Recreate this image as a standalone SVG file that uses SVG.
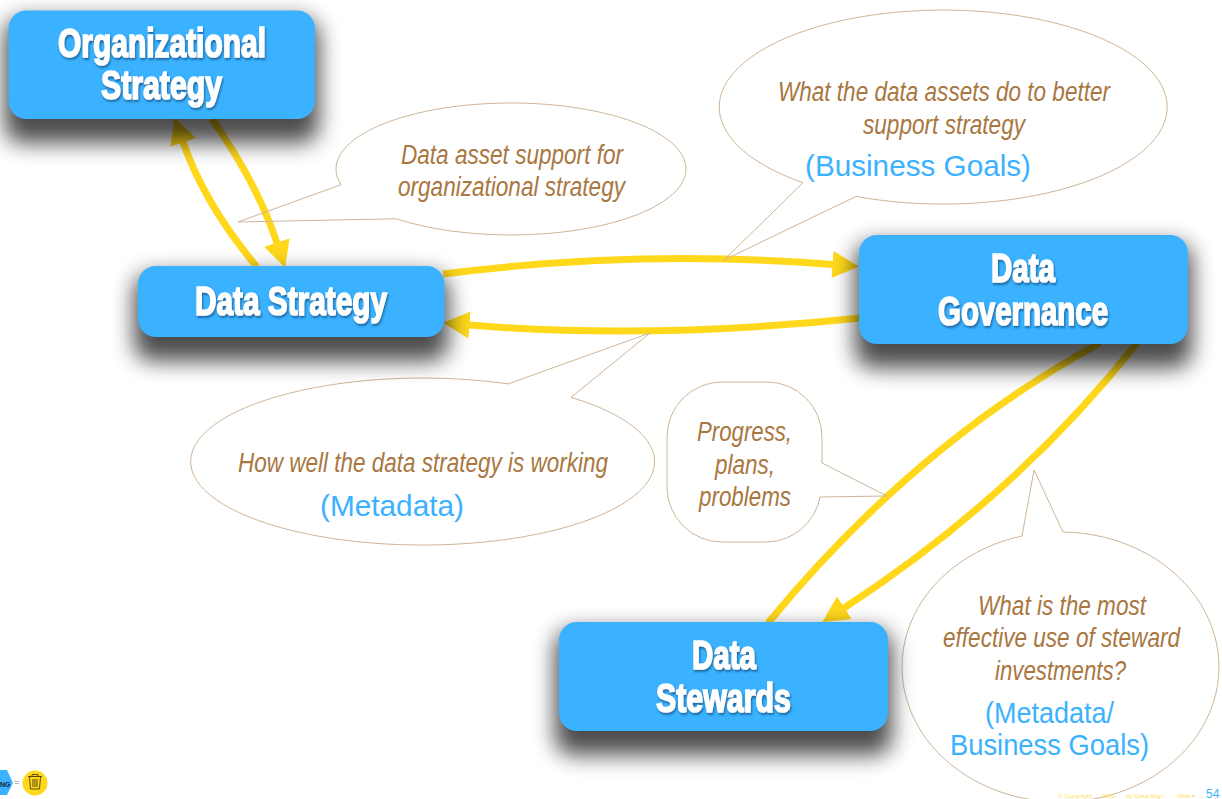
<svg xmlns="http://www.w3.org/2000/svg" width="1222" height="799" viewBox="0 0 1222 799">
<style>
text{font-family:"Liberation Sans",Arial,sans-serif}
.box{fill:#3BB2FF}
.shade{fill:#000;opacity:.7}
.title{fill:#fff;stroke:#fff;stroke-width:1.7px;font-size:41px;font-weight:700;filter:url(#ts);font-family:"Liberation Sans Narrow","Liberation Sans",Arial,sans-serif}
.say{fill:#A9773F;font-size:27px;font-style:italic}
.tag{fill:#3BB2FF;font-size:30px}
.bub{fill:none;stroke:#CFB497;stroke-width:1}
.con{fill:none;stroke:#FFD81C;stroke-width:7}
.foot{fill:#FFE05A;font-size:6px}
</style>
<defs>
<marker id="head" markerUnits="userSpaceOnUse" markerWidth="28" markerHeight="28" refX="0.5" refY="14" orient="auto"><path d="M0,0.500 L26.500,14 L0,27.500 Z" fill="#FFD81C"/></marker>
<filter id="sh" x="-30%" y="-70%" width="160%" height="240%"><feGaussianBlur stdDeviation="11"/></filter>
<filter id="ts" x="-10%" y="-20%" width="120%" height="150%"><feDropShadow dx="1" dy="2" stdDeviation="1.2" flood-color="#0A4E80" flood-opacity="0.75"/></filter>
</defs>
<rect width="1222" height="799" fill="#fff"/>
<g id="connectors">
<path class="con" d="M257,267 Q205,205 183,142" marker-end="url(#head)"/>
<path class="con" d="M212,119 Q258,185 277,243" marker-end="url(#head)"/>
<path class="con" d="M443,274 Q640,249 833,264.500" marker-end="url(#head)"/>
<path class="con" d="M860,318 Q650,340 469,325" marker-end="url(#head)"/>
<path class="con" d="M1137,343 Q1016,496 844,608" marker-end="url(#head)"/>
<path class="con" d="M768,623 Q916,443 1100,343"/>
</g>
<g id="bubble-support">
<path class="bub" d="M341,184.660 A175,66 0 1 1 396,218.750 L238,222 Z"/>
<text class="say" x="401" y="164" textLength="222" lengthAdjust="spacingAndGlyphs">Data asset support for</text>
<text class="say" x="398" y="196" textLength="227" lengthAdjust="spacingAndGlyphs">organizational strategy</text>
</g>
<g id="bubble-goals">
<path class="bub" d="M803,182.700 A224,97 0 1 1 856,196.400 L724,260 Z"/>
<text class="say" x="778" y="101" textLength="332" lengthAdjust="spacingAndGlyphs">What the data assets do to better</text>
<text class="say" x="863" y="134" textLength="162" lengthAdjust="spacingAndGlyphs">support strategy</text>
<text class="tag" x="805" y="176" textLength="226" lengthAdjust="spacingAndGlyphs">(Business Goals)</text>
</g>
<g id="bubble-working">
<path class="bub" d="M571,397.350 A232,83.500 0 1 1 508,383.900 L650,333 Z"/>
<text class="say" x="238" y="472" textLength="370" lengthAdjust="spacingAndGlyphs">How well the data strategy is working</text>
<text class="tag" x="320" y="516" textLength="144" lengthAdjust="spacingAndGlyphs">(Metadata)</text>
</g>
<g id="bubble-progress">
<path class="bub" d="M822,463 L822,437 A55,55 0 0 0 767,382 L722,382 A55,55 0 0 0 667,437 L667,487 A55,55 0 0 0 722,542 L767,542 A55,55 0 0 0 820,497 L887,496 Z"/>
<text class="say" x="697" y="441" textLength="95" lengthAdjust="spacingAndGlyphs">Progress,</text>
<text class="say" x="715" y="474" textLength="60" lengthAdjust="spacingAndGlyphs">plans,</text>
<text class="say" x="699" y="506" textLength="92" lengthAdjust="spacingAndGlyphs">problems</text>
</g>
<g id="bubble-invest">
<path class="bub" d="M1063,532.020 A158.500,135 0 1 1 1022,536.040 L1034,470 Z"/>
<text class="say" x="978" y="615" textLength="168" lengthAdjust="spacingAndGlyphs">What is the most</text>
<text class="say" x="943" y="647" textLength="237" lengthAdjust="spacingAndGlyphs">effective use of steward</text>
<text class="say" x="995" y="680" textLength="131" lengthAdjust="spacingAndGlyphs">investments?</text>
<text class="tag" x="985" y="723" textLength="129" lengthAdjust="spacingAndGlyphs">(Metadata/</text>
<text class="tag" x="950" y="755" textLength="199" lengthAdjust="spacingAndGlyphs">Business Goals)</text>
</g>
<g id="node-org">
<rect class="shade" x="4.500" y="18.500" width="314.500" height="124.500" rx="18" filter="url(#sh)"/>
<rect class="box" x="8.500" y="10.500" width="306.500" height="108.500" rx="18"/>
<text class="title" x="58" y="57" textLength="208" lengthAdjust="spacingAndGlyphs">Organizational</text>
<text class="title" x="101" y="99" textLength="121" lengthAdjust="spacingAndGlyphs">Strategy</text>
</g>
<g id="node-strategy">
<rect class="shade" x="134" y="274" width="314.500" height="87" rx="18" filter="url(#sh)"/>
<rect class="box" x="138" y="266" width="306.500" height="71" rx="18"/>
<text class="title" x="195" y="315" textLength="192" lengthAdjust="spacingAndGlyphs">Data Strategy</text>
</g>
<g id="node-governance">
<rect class="shade" x="855" y="243" width="337" height="125" rx="18" filter="url(#sh)"/>
<rect class="box" x="859" y="235" width="329" height="109" rx="18"/>
<text class="title" x="991" y="282" textLength="64" lengthAdjust="spacingAndGlyphs">Data</text>
<text class="title" x="938" y="325" textLength="170" lengthAdjust="spacingAndGlyphs">Governance</text>
</g>
<g id="node-stewards">
<rect class="shade" x="555" y="630" width="337" height="125" rx="18" filter="url(#sh)"/>
<rect class="box" x="559" y="622" width="329" height="109" rx="18"/>
<text class="title" x="692" y="669" textLength="64" lengthAdjust="spacingAndGlyphs">Data</text>
<text class="title" x="656" y="712" textLength="135" lengthAdjust="spacingAndGlyphs">Stewards</text>
</g>
<g id="footer">
<path d="M-5,770 L7,770 L13,783 L7,795 L-5,795 Z" fill="#3BB2FF"/>
<text x="0" y="787" font-size="7" font-weight="700" fill="#123">NG</text>
<text x="14" y="785" font-size="9" fill="#777">=</text>
<circle cx="35" cy="783" r="12.500" fill="#FFD81C"/>
<path d="M28,776.500 H42 M32,776.500 V774.500 H38 V776.500 M29.500,777 L30.500,789 H39.500 L40.500,777 M33,779 V787 M35,779 V787 M37,779 V787" fill="none" stroke="#5A4A10" stroke-width="1"/>
<text class="foot" x="1058" y="797.500" textLength="34" lengthAdjust="spacingAndGlyphs">© Copyright</text>
<text class="foot" x="1102" y="797.500">2020</text>
<text class="foot" x="1126" y="797.500" textLength="38" lengthAdjust="spacingAndGlyphs">by Data Align</text>
<text class="foot" x="1177" y="797.500" textLength="18" lengthAdjust="spacingAndGlyphs">Slide #</text>
<text x="1206" y="798" font-size="12" fill="#3BB2FF">54</text>
</g>
</svg>
